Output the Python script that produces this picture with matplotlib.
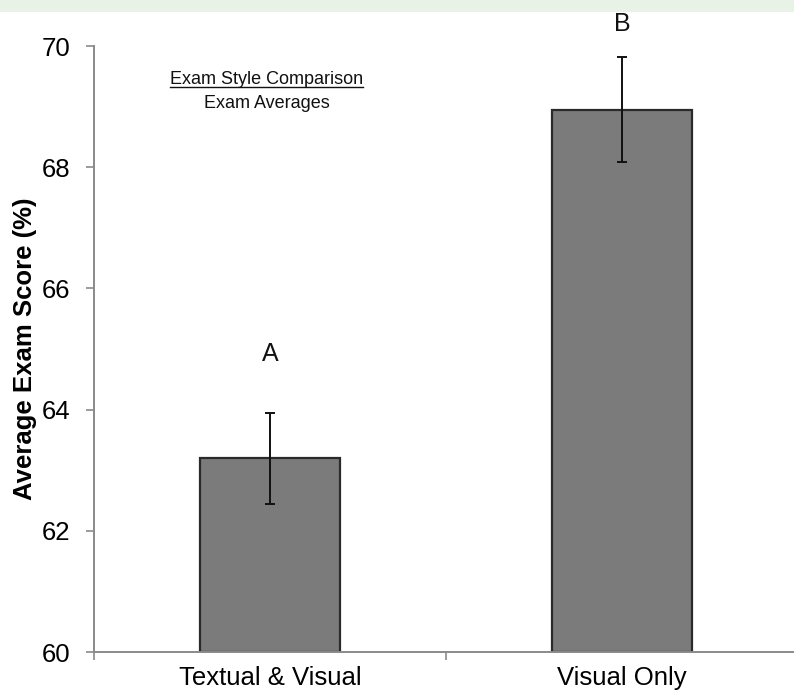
import matplotlib
matplotlib.use("Agg")
import matplotlib.pyplot as plt
from matplotlib.patches import Rectangle
from matplotlib.lines import Line2D

plt.rcParams['font.family'] = ['Liberation Sans', 'DejaVu Sans']

categories = ["Textual & Visual", "Visual Only"]
means = [63.2, 68.95]
errors = [0.75, 0.87]
letters = ["A", "B"]
letter_y = [64.8, 70.25]
yticks = [60, 62, 64, 66, 68, 70]

fig = plt.figure(figsize=(7.94, 6.94), dpi=100)
fig.patch.set_facecolor("white")
# pale band along the top edge
fig.add_artist(Rectangle((0, 1 - 12 / 694), 1, 12 / 694, transform=fig.transFigure,
                         facecolor="#e8f2e6", edgecolor="none", zorder=0))

ax = fig.add_axes([94 / 794, 1 - 652 / 694, 704 / 794, 606 / 694])
x = list(range(len(categories)))
ax.bar(x, [m - 60 for m in means], bottom=60, width=0.40, color="#7b7b7b",
       edgecolor="#2a2a2a", linewidth=1.6, zorder=2)
ax.errorbar(x, means, yerr=errors, fmt="none", ecolor="#111111", elinewidth=1.4,
            capsize=3.8, capthick=1.4, zorder=3)

for xi, ly, lab in zip(x, letter_y, letters):
    ax.text(xi, ly, lab, ha="center", va="baseline", fontsize=18, color="#111111",
            clip_on=False)

ax.set_xlim(-0.5, 1.5)
ax.set_ylim(60, 70)
ax.set_yticks(yticks)
ax.set_yticklabels([str(t) for t in yticks], fontsize=18.5)
ax.set_xticks(x)
ax.set_xticklabels(categories, fontsize=18.5)
ax.set_xticks([-0.5, 0.5, 1.5], minor=True)
ax.tick_params(axis="x", which="major", length=0, pad=10)
ax.tick_params(axis="x", which="minor", length=6, width=1.2, color="#8a8a8a", direction="out")
ax.tick_params(axis="y", length=6, width=1.2, color="#8a8a8a", direction="out", pad=11)
ax.set_ylabel("Average Exam Score (%)", fontsize=18.5, fontweight="bold", labelpad=3)

for side in ("top", "right"):
    ax.spines[side].set_visible(False)
for side in ("left", "bottom"):
    ax.spines[side].set_color("#8a8a8a")
    ax.spines[side].set_linewidth(1.4)

t1 = ax.text(-0.01, 69.37, "Exam Style Comparison", ha="center", va="baseline",
             fontsize=13, color="#111111")
ax.text(-0.01, 68.97, "Exam Averages", ha="center", va="baseline", fontsize=13,
        color="#111111")

# underline the first heading line
fig.canvas.draw()
bb = t1.get_window_extent(renderer=fig.canvas.get_renderer())
inv = fig.transFigure.inverted()
(x0, y0), (x1, _) = inv.transform([(bb.x0, bb.y0 + 1), (bb.x1, bb.y0 + 1)])
fig.add_artist(Line2D([x0, x1], [y0, y0], transform=fig.transFigure, color="#111111",
                      linewidth=1.0))

fig.savefig("out.png", dpi=100)
